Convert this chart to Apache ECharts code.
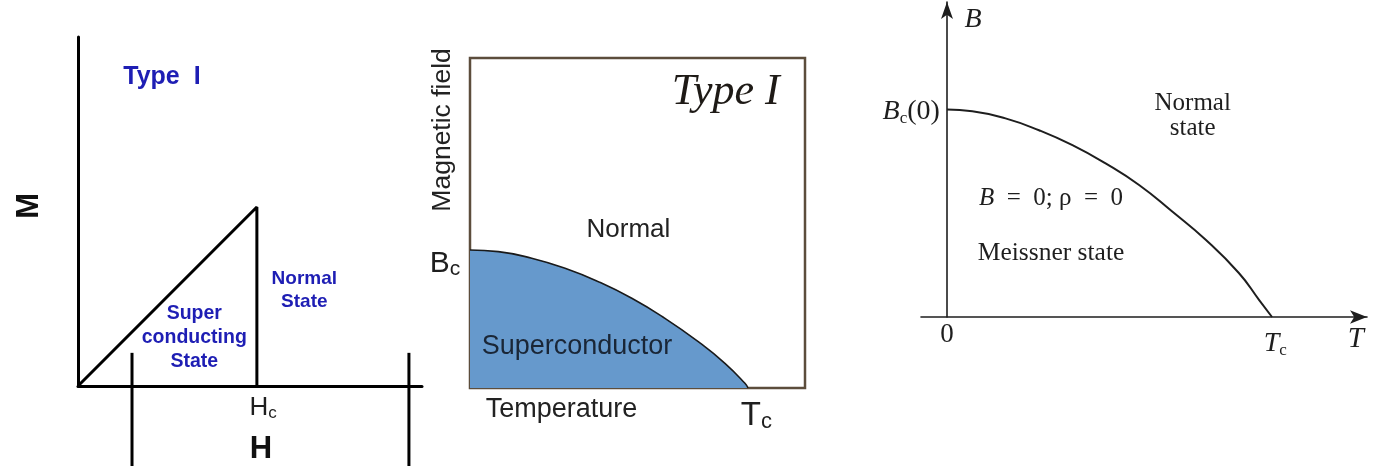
<!DOCTYPE html>
<html><head><meta charset="utf-8">
<script src="https://cdn.jsdelivr.net/npm/echarts@6/dist/echarts.min.js"></script>
<style>html,body{margin:0;padding:0;background:#fff}#c{width:1384px;height:466px}</style>
</head><body><div id="c"></div>
<script>
// ---- Panel 1: M vs H, Type I ----
const p1H = [0, 5.2, 5.2];
const p1M = [0, 5.13, 0];
const p1BarLeftH = [1.57, 1.57];
const p1BarRightH = [9.62, 9.62];
const p1BarM = [0.95, -2.292];
const p1TickLabelsX = ['H', 'c'];
// ---- Panel 2: B vs T (Type I phase diagram, filled) ----
const p2T = [0, 0.102, 0.222, 0.342, 0.462, 0.582, 0.701, 0.821, 0.917, 0.989, 1];
const p2B = [1, 0.988, 0.940, 0.867, 0.770, 0.650, 0.505, 0.336, 0.179, 0.034, 0];
const p2TickLabelsY = ['B', 'c'];
const p2TickLabelsX = ['T', 'c'];
// ---- Panel 3: B vs T (Meissner) ----
const p3T = [0, 0.078, 0.180, 0.283, 0.386, 0.488, 0.591, 0.693, 0.796, 0.898, 0.960, 1];
const p3B = [1, 0.992, 0.957, 0.900, 0.828, 0.740, 0.636, 0.508, 0.372, 0.212, 0.083, 0];
const p3TickLabelsX = ['0', 'T', 'c'];
const p3TickLabelsY = ['B', 'c', '(0)'];

const zip = (a, b) => a.map((v, i) => [v, b[i]]);
const blue = '#1e1eb4';
const INK = '#1e1e1e';
const SANS = '"Liberation Sans", Arial, sans-serif';
const SERIF = '"Liberation Serif", "Times New Roman", serif';

function note(x, y, text, label) {
  return { value: [x, y], label: Object.assign({ show: true, formatter: text, position: 'inside' }, label) };
}
function notes(idx, data) {
  return { type: 'scatter', xAxisIndex: idx, yAxisIndex: idx, symbolSize: 0, clip: false, silent: true, z: 10,
    itemStyle: { opacity: 1 }, data: data };
}
const off = { axisTick: { show: false }, axisLabel: { show: false }, splitLine: { show: false } };
const sub = (m, s, font, mSize, sSize, italic) => ({
  formatter: '{m|' + m + '}{s|' + s + '}',
  rich: {
    m: { fontFamily: font, fontSize: mSize, color: INK, lineHeight: mSize + 2, fontStyle: italic ? 'italic' : 'normal' },
    s: { fontFamily: font, fontSize: sSize, color: INK, verticalAlign: 'bottom', lineHeight: sSize - 3 }
  }
});

const option = {
  animation: false,
  backgroundColor: '#ffffff',
  grid: [
    { left: 78, top: 37, width: 344, height: 349 },
    { left: 470, top: 58, width: 335, height: 330, show: true, borderColor: '#5c4d3c', borderWidth: 2.5, backgroundColor: 'transparent' },
    { left: 921, top: 2, width: 446, height: 315 }
  ],
  xAxis: [
    Object.assign({ type: 'value', gridIndex: 0, min: 0, max: 10, axisLine: { lineStyle: { color: '#000', width: 3 } } }, off),
    Object.assign({ type: 'value', gridIndex: 1, min: 0, max: 1.205, axisLine: { show: false } }, off),
    Object.assign({ type: 'value', gridIndex: 2, min: -0.08, max: 1.2923, axisLine: { onZero: true, symbol: ['none', 'arrow'], symbolSize: [10, 17], lineStyle: { color: INK, width: 1.6 } } }, off)
  ],
  yAxis: [
    Object.assign({ type: 'value', gridIndex: 0, min: 0, max: 10, axisLine: { lineStyle: { color: '#000', width: 3 } } }, off),
    Object.assign({ type: 'value', gridIndex: 1, min: 0, max: 2.391, axisLine: { show: false } }, off),
    Object.assign({ type: 'value', gridIndex: 2, min: 0, max: 1.518, axisLine: { onZero: true, symbol: ['none', 'arrow'], symbolSize: [9, 17], lineStyle: { color: INK, width: 1.6 } } }, off)
  ],
  series: [
    // panel 1 lines
    { type: 'line', xAxisIndex: 0, yAxisIndex: 0, data: zip(p1H, p1M), showSymbol: false, lineStyle: { color: '#000', width: 3 }, clip: false },
    { type: 'line', xAxisIndex: 0, yAxisIndex: 0, data: zip(p1BarLeftH, p1BarM), showSymbol: false, lineStyle: { color: '#000', width: 3 }, clip: false },
    { type: 'line', xAxisIndex: 0, yAxisIndex: 0, data: zip(p1BarRightH, p1BarM), showSymbol: false, lineStyle: { color: '#000', width: 3 }, clip: false },
    // panel 2 filled phase boundary
    { type: 'line', xAxisIndex: 1, yAxisIndex: 1, data: zip(p2T, p2B), smooth: 0.5, showSymbol: false, lineStyle: { color: '#1a1a1a', width: 1.6 }, areaStyle: { color: '#6699cc', opacity: 1, origin: 'start' }, z: 1 },
    // panel 3 curve
    { type: 'line', xAxisIndex: 2, yAxisIndex: 2, data: zip(p3T, p3B), smooth: 0.5, showSymbol: false, lineStyle: { color: INK, width: 2 } },
    // panel 1 texts
    notes(0, [
      note(2.44, 8.85, 'Type  I', { color: blue, fontFamily: SANS, fontWeight: 'bold', fontSize: 25 }),
      note(-1.40, 5.16, 'M', { color: '#111', fontFamily: SANS, fontWeight: 'bold', fontSize: 31, rotate: 90 }),
      note(6.58, 2.75, 'Normal\nState', { color: blue, fontFamily: SANS, fontWeight: 'bold', fontSize: 19, lineHeight: 23, align: 'center' }),
      note(3.38, 1.40, 'Super\nconducting\nState', { color: blue, fontFamily: SANS, fontWeight: 'bold', fontSize: 19.5, lineHeight: 24, align: 'center' }),
      note(5.38, -0.62, '', sub(p1TickLabelsX[0], p1TickLabelsX[1], SANS, 26, 17, false)),
      note(5.32, -1.81, 'H', { color: '#111', fontFamily: SANS, fontWeight: 'bold', fontSize: 31 })
    ]),
    // panel 2 texts
    notes(1, [
      note(-0.0975, 1.87, 'Magnetic field', { color: '#222', fontFamily: SANS, fontSize: 26.5, rotate: 90 }),
      note(-0.09, 0.90, '', sub(p2TickLabelsY[0], p2TickLabelsY[1], SANS, 30, 21, false)),
      note(0.92, 2.14, 'Type I', { color: '#1e1a16', fontFamily: SERIF, fontStyle: 'italic', fontSize: 44 }),
      note(0.570, 1.145, 'Normal', { color: '#222', fontFamily: SANS, fontSize: 26 }),
      note(0.385, 0.297, 'Superconductor', { color: '#1a2636', fontFamily: SANS, fontSize: 27 }),
      note(0.329, -0.159, 'Temperature', { color: '#222', fontFamily: SANS, fontSize: 27 }),
      note(1.03, -0.20, '', sub(p2TickLabelsX[0], p2TickLabelsX[1], SANS, 33, 22, false))
    ]),
    // panel 3 texts
    notes(2, [
      note(0.0805, 1.435, 'B', { color: INK, fontFamily: SERIF, fontStyle: 'italic', fontSize: 28 }),
      note(-0.11, 0.99, '', {
        formatter: '{m|' + p3TickLabelsY[0] + '}{s|' + p3TickLabelsY[1] + '}{p|' + p3TickLabelsY[2] + '}',
        rich: { m: { fontFamily: SERIF, fontStyle: 'italic', fontSize: 28, color: INK, lineHeight: 30 },
                s: { fontFamily: SERIF, fontSize: 17, color: INK, verticalAlign: 'bottom', lineHeight: 14 },
                p: { fontFamily: SERIF, fontSize: 28, color: INK, lineHeight: 30 } } }),
      note(0.756, 0.97, 'Normal\nstate', { color: INK, fontFamily: SERIF, fontSize: 25, lineHeight: 25, align: 'center' }),
      note(0.32, 0.573, '{i|B}\u2002=\u20020; ρ\u2002=\u20020', { color: INK, fontFamily: SERIF, fontSize: 25, rich: { i: { fontFamily: SERIF, fontStyle: 'italic', fontSize: 25, color: INK } } }),
      note(0.32, 0.308, 'Meissner state', { color: INK, fontFamily: SERIF, fontSize: 25.5 }),
      note(0, -0.087, p3TickLabelsX[0], { color: INK, fontFamily: SERIF, fontSize: 27 }),
      note(1.01, -0.13, '', sub(p3TickLabelsX[1], p3TickLabelsX[2], SERIF, 28, 17, true)),
      note(1.258, -0.11, 'T', { color: INK, fontFamily: SERIF, fontStyle: 'italic', fontSize: 29 })
    ])
  ]
};
const chart = echarts.init(document.getElementById('c'), null, { renderer: 'canvas' });
chart.setOption(option);
</script>
</body></html>
